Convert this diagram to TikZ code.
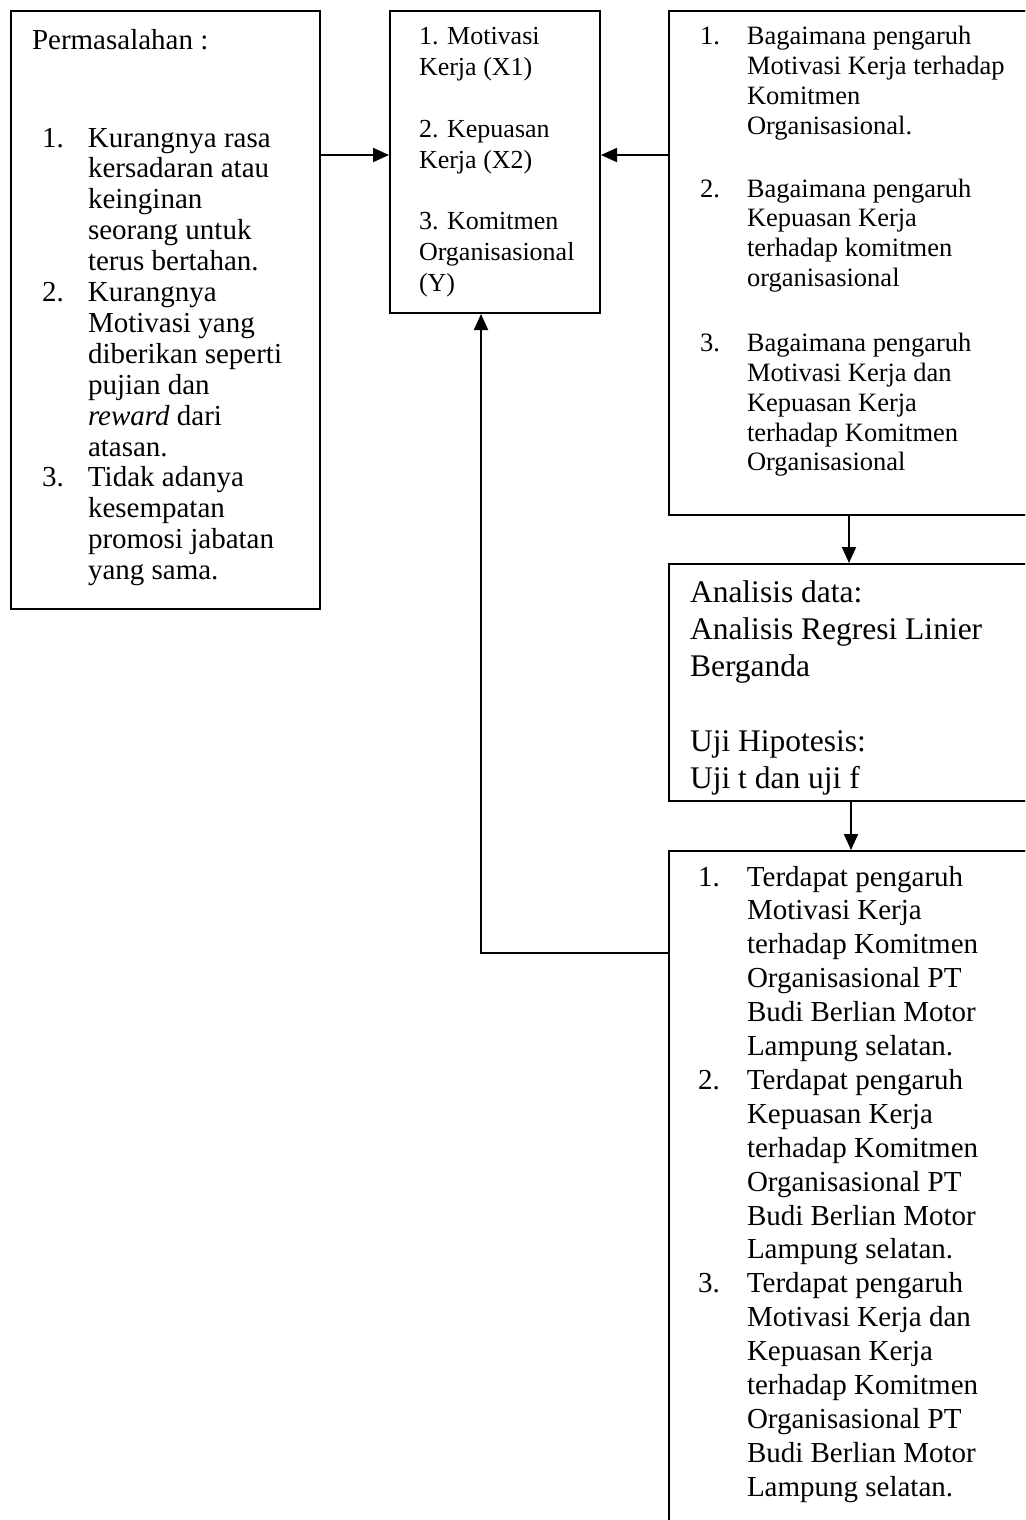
\documentclass[tikz,border=0pt]{standalone}
\usepackage{fontspec}
\setmainfont{Liberation Serif}
\usetikzlibrary{arrows.meta}
\newcommand\inumA[1]{\makebox[46pt][l]{#1}}
\newcommand\inumC[1]{\makebox[47pt][l]{#1}}
\newcommand\inumE[1]{\makebox[49pt][l]{#1}}
\begin{document}
\begin{tikzpicture}[x=1pt,y=-1pt,
  box/.style={draw=black, line width=2pt, rectangle, anchor=north west, inner sep=0pt},
  txt/.style={anchor=base west, inner sep=0pt, outer sep=0pt, align=left},
  fA/.style={font=\fontsize{29}{30.9}\selectfont},
  fB/.style={font=\fontsize{26}{30.8}\selectfont},
  fC/.style={font=\fontsize{26.5}{29.7}\selectfont},
  fD/.style={font=\fontsize{31.5}{37.3}\selectfont},
  fE/.style={font=\fontsize{29}{33.9}\selectfont},
  arr/.style={draw=black, line width=2pt, -{Triangle[length=16pt,width=14pt]}}]
\clip (0,0) rectangle (1025,1520);
\fill[white] (0,0) rectangle (1025,1520);

% boxes
\node[box, minimum width=309pt, minimum height=598pt] (A) at (10,10) {};
\node[box, minimum width=210pt, minimum height=302pt] (B) at (389,10) {};
\node[box, minimum width=372pt, minimum height=504pt] (C) at (668,10) {};
\node[box, minimum width=372pt, minimum height=237pt] (D) at (668,563) {};
\node[box, minimum width=372pt, minimum height=690pt] (E) at (668,850) {};

% box A text
\node[txt, fA] (Ahead) at (32,49) {Permasalahan :};
\node[txt, fA] (Alist) at (42,147) {\begin{tabular}[t]{@{}l@{}}
\inumA{1.}Kurangnya rasa\\
\inumA{}kersadaran atau\\
\inumA{}keinginan\\
\inumA{}seorang untuk\\
\inumA{}terus bertahan.\\
\inumA{2.}Kurangnya\\
\inumA{}Motivasi yang\\
\inumA{}diberikan seperti\\
\inumA{}pujian dan\\
\inumA{}\textit{reward} dari\\
\inumA{}atasan.\\
\inumA{3.}Tidak adanya\\
\inumA{}kesempatan\\
\inumA{}promosi jabatan\\
\inumA{}yang sama.
\end{tabular}};

% box B text
\node[txt, fB] (Blist) at (419,45) {\begin{tabular}[t]{@{}l@{}}
1. Motivasi\\
Kerja (X1)\\
\\
2. Kepuasan\\
Kerja (X2)\\
\\
3. Komitmen\\
Organisasional\\
(Y)
\end{tabular}};

% box C text
\node[txt, fC] (Clist) at (700,45) {\begin{tabular}[t]{@{}l@{}}
\inumC{1.}Bagaimana pengaruh\\
\inumC{}Motivasi Kerja terhadap\\
\inumC{}Komitmen\\
\inumC{}Organisasional.\\[33.3pt]
\inumC{2.}Bagaimana pengaruh\\
\inumC{}Kepuasan Kerja\\
\inumC{}terhadap komitmen\\
\inumC{}organisasional\\[36.1pt]
\inumC{3.}Bagaimana pengaruh\\
\inumC{}Motivasi Kerja dan\\
\inumC{}Kepuasan Kerja\\
\inumC{}terhadap Komitmen\\
\inumC{}Organisasional
\end{tabular}};

% box D text
\node[txt, fD] (Dlist) at (690,602) {\begin{tabular}[t]{@{}l@{}}
Analisis data:\\
Analisis Regresi Linier\\
Berganda\\
\\
Uji Hipotesis:\\
Uji t dan uji f
\end{tabular}};

% box E text
\node[txt, fE] (Elist) at (698,886) {\begin{tabular}[t]{@{}l@{}}
\inumE{1.}Terdapat pengaruh\\
\inumE{}Motivasi Kerja\\
\inumE{}terhadap Komitmen\\
\inumE{}Organisasional PT\\
\inumE{}Budi Berlian Motor\\
\inumE{}Lampung selatan.\\
\inumE{2.}Terdapat pengaruh\\
\inumE{}Kepuasan Kerja\\
\inumE{}terhadap Komitmen\\
\inumE{}Organisasional PT\\
\inumE{}Budi Berlian Motor\\
\inumE{}Lampung selatan.\\
\inumE{3.}Terdapat pengaruh\\
\inumE{}Motivasi Kerja dan\\
\inumE{}Kepuasan Kerja\\
\inumE{}terhadap Komitmen\\
\inumE{}Organisasional PT\\
\inumE{}Budi Berlian Motor\\
\inumE{}Lampung selatan.
\end{tabular}};

% connector helpers
\coordinate (yab) at (0,155);
\coordinate (xcd) at (849,0);
\coordinate (xde) at (851,0);
\coordinate (yeb) at (0,953);
\coordinate (xeb) at (481,0);

% connectors
\draw[arr] (A.east |- yab) -- (B.west |- yab);
\draw[arr] (C.west |- yab) -- (B.east |- yab);
\draw[arr] (C.south -| xcd) -- (D.north -| xcd);
\draw[arr] (D.south -| xde) -- (E.north -| xde);
\draw[arr] (E.west |- yeb) -| (B.south -| xeb);
\end{tikzpicture}
\end{document}
